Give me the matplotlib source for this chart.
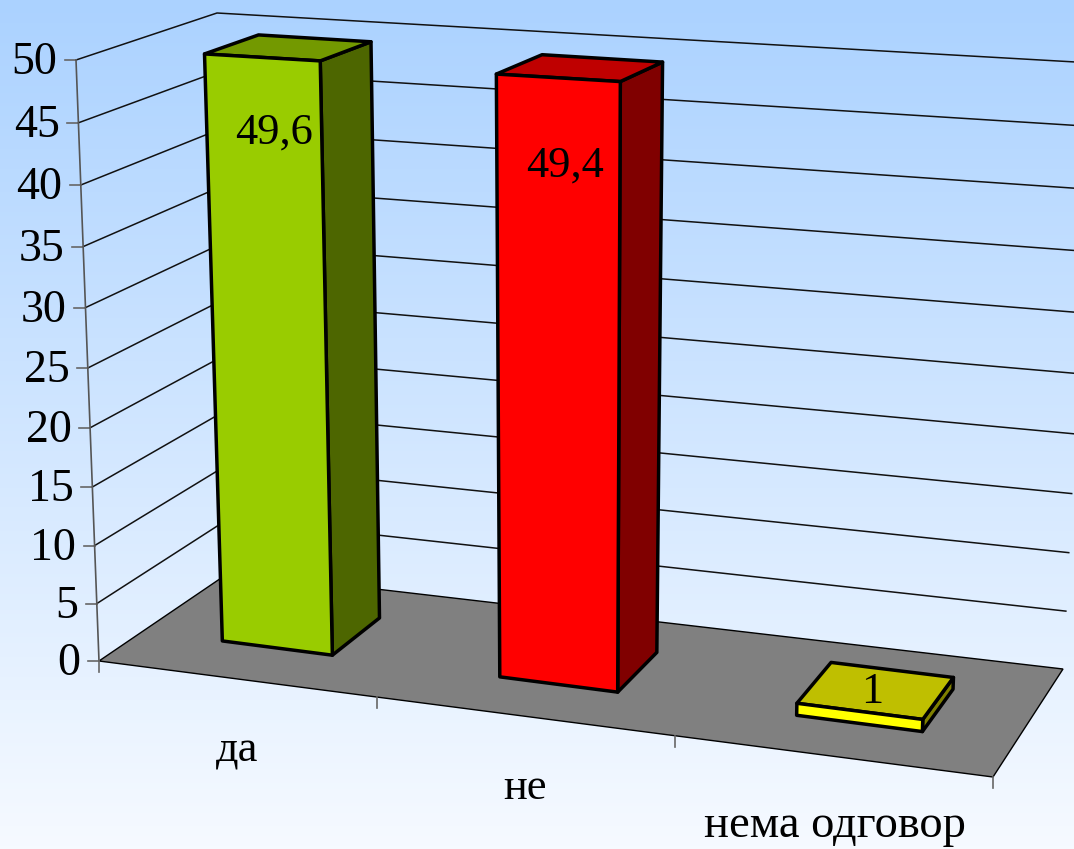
#!/usr/bin/env python3

import matplotlib.pyplot as plt
from matplotlib.patches import Polygon
import numpy as np


#%%  Data
categories = ['да', 'не', 'нема одговор']
values = [49.6, 49.4, 1]
value_labels = ['49,6', '49,4', '1']
y_ticks = [0, 5, 10, 15, 20, 25, 30, 35, 40, 45, 50]

face_colors = ['#99CC00', '#FF0000', '#FFFF00']
side_colors = ['#4D6600', '#800000', '#808000']
top_colors = ['#739900', '#BF0000', '#BFBF00']


#%%  Projection of the fake 3D box to pixels
# corners: (width, depth, height)
corners = {
    (0, 0, 0): (99, 661), (1, 0, 0): (993, 777),
    (0, 1, 0): (230, 572), (1, 1, 0): (1063, 669),
    (0, 0, 1): (76, 60), (1, 0, 1): (1017, 112),
    (0, 1, 1): (217, 13), (1, 1, 1): (1093, 63),
}
y_max = 50

def proj(u, d, val, bar=False):
    # bends u and h a bit for the perspective, then trilinear between corners
    u = u + 0.1*u*(u-1)
    h = val/y_max
    h = h + 0.05*h*(h-1)
    p = np.zeros(2)
    for (a, b, c), xy in corners.items():
        w = (u if a else 1-u) * (d if b else 1-d) * (h if c else 1-h)
        p += w*np.array(xy)
    if bar:
        # bars sit slightly off the bilinear box
        p += [-2.5*h, 3.5*u]
    return p


#%%  Plotting
fig = plt.figure(figsize=(10.74, 8.49), dpi=100)
ax = fig.add_axes([0, 0, 1, 1])
plt.rcParams['font.family'] = ['Liberation Serif', 'DejaVu Serif']

# Background
top_c = np.array([0xAB, 0xD2, 0xFF])/255
bot_c = np.array([0xF6, 0xFA, 0xFF])/255
t = np.linspace(0, 1, 256)[:, None, None]
ax.imshow(top_c + (bot_c-top_c)*t, extent=[0, 1074, 849, 0], aspect='auto', zorder=0)

# Floor
floor = [proj(0, 0, 0), proj(1, 0, 0), proj(1, 1, 0), proj(0, 1, 0)]
ax.add_patch(Polygon(floor, fc='#808080', ec='k', lw=1.0, zorder=1))

# Grid lines on the walls, and the y ticks
for v in y_ticks:
    if v > 0:
        pts = np.array([proj(0, 0, v), proj(0, 1, v), proj(1, 1, v)])
        ax.plot(pts[:, 0], pts[:, 1], c='#111111', lw=1.1, zorder=2)
    p = proj(0, 0, v)
    ax.plot([p[0]-11, p[0]], [p[1], p[1]], c='#666666', lw=1.2, zorder=2)
    ax.text(p[0]-18.5, p[1]+3, str(v), ha='right', va='center', fontsize=33, color='k')

# Axis lines and x ticks
pts = np.array([proj(0, 0, 0), proj(0, 0, y_max)])
ax.plot(pts[:, 0], pts[:, 1], c='#555555', lw=1.2, zorder=2)
for u in [0, 1/3, 2/3, 1]:
    p = proj(u, 0, 0)
    ax.plot([p[0], p[0]], [p[1], p[1]+11], c='#666666', lw=1.2, zorder=2)

# Bars
n = len(categories)
width = 0.135
d0, d1 = 0.34, 0.74
for i in range(n):
    u0 = (i+0.5)/n - width/2
    u1 = (i+0.5)/n + width/2
    v = values[i]
    front = [proj(u0, d0, 0, True), proj(u1, d0, 0, True), proj(u1, d0, v, True), proj(u0, d0, v, True)]
    side = [proj(u1, d0, 0, True), proj(u1, d1, 0, True), proj(u1, d1, v, True), proj(u1, d0, v, True)]
    top = [proj(u0, d0, v, True), proj(u1, d0, v, True), proj(u1, d1, v, True), proj(u0, d1, v, True)]
    ax.add_patch(Polygon(side, fc=side_colors[i], ec='k', lw=2.5, joinstyle='round', zorder=3))
    ax.add_patch(Polygon(top, fc=top_colors[i], ec='k', lw=2.5, joinstyle='round', zorder=3))
    ax.add_patch(Polygon(front, fc=face_colors[i], ec='k', lw=2.5, joinstyle='round', zorder=3))

# Value labels
label_xy = [(274, 133), (565, 166), (872, 692)]
for (x, y), s in zip(label_xy, value_labels):
    ax.text(x, y, s, ha='center', va='center', fontsize=32, color='k', zorder=4)

# Category labels
cat_xy = [(237, 762), (525, 799), (835, 837)]
cat_size = [32, 32, 33.5]
for (x, y), s, fs in zip(cat_xy, categories, cat_size):
    ax.text(x, y, s, ha='center', va='baseline', fontsize=fs, color='k', zorder=4)

ax.set_xlim(0, 1074)
ax.set_ylim(849, 0)
ax.axis('off')

plt.savefig('out.png', dpi=100)
